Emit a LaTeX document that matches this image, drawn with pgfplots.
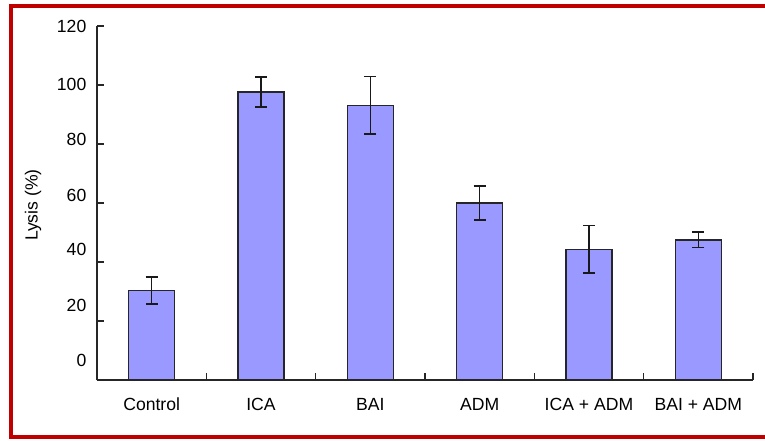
\documentclass[border=0pt]{standalone}
\usepackage{pgfplots}
\pgfplotsset{compat=1.18}
\usepackage{fontspec}
\setmainfont{Liberation Sans}
\definecolor{barfill}{HTML}{9999FF}
\definecolor{framered}{HTML}{C00000}
\begin{document}
\begin{tikzpicture}[x=1pt,y=1pt]
\useasboundingbox (0,0) rectangle (765,440);
\draw[framered, line width=4pt] (790,433.5) -- (10.5,433.5) -- (10.5,3) -- (790,3);
\begin{axis}[
  at={(97pt,60pt)}, anchor=south west,
  width=656pt, height=354pt, scale only axis,
  xmin=-0.5, xmax=5.5, ymin=0, ymax=120,
  axis x line=bottom, axis y line=left,
  axis line style={-, line width=1.6pt, color=black!85},
  tick align=inside,
  xtick={0,...,5},
  xticklabels={Control,ICA,BAI,ADM,ICA + ADM,BAI + ADM},
  minor xtick={-0.5,0.5,...,5.5},
  ytick={6.8,25.4,44.1,62.7,81.7,100.3,119.7},
  yticklabels={0,20,40,60,80,100,120},
  minor ytick={0,20,...,120},
  major tick length=0pt,
  minor tick length=7pt,
  major tick style={draw=none},
  minor tick style={line width=1.3pt, color=black!85},
  tick label style={font=\fontsize{17.6}{21}\selectfont},
  xticklabel style={anchor=base, yshift=-30.5pt},
  yticklabel style={anchor=east, inner sep=0pt, xshift=-10.5pt},
  ylabel={Lysis (\%)},
  ylabel style={font=\fontsize{17.6}{21}\selectfont, at={(axis description cs:-0.0976,0.494)}, anchor=center},
  clip=false,
]
\addplot[ybar, bar width=46pt, fill=barfill, draw=black!85, line width=1.6pt,
  error bars/.cd, y dir=both, y explicit,
  error bar style={line width=1.4pt, color=black!90},
  error mark options={rotate=90, mark size=6pt, line width=1.4pt, color=black!90}]
  coordinates {
  (0,30.3) +- (0,4.6)
  (1,97.6) +- (0,5.1)
  (2,93.1) +- (0,9.7)
  (3,60.0) +- (0,5.7)
  (4,44.3) +- (0,8.0)
  (5,47.5) +- (0,2.65)
  };
\end{axis}
\end{tikzpicture}
\end{document}
